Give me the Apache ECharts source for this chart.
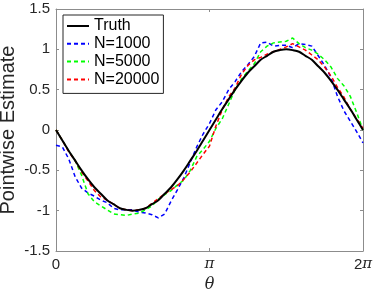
<!DOCTYPE html>
<html>
<head>
<meta charset="utf-8">
<script src="https://cdn.jsdelivr.net/npm/echarts@6/dist/echarts.min.js"></script>
<style>
html,body{margin:0;padding:0;background:#fff;}
#chart{width:374px;height:293px;}
</style>
</head>
<body>
<div id="chart"></div>
<script>
// sample grid: 49 points, theta = k*pi/24, k = 0..48
const sampleCount = 49;
const truth = [0,-0.13,-0.26,-0.38,-0.5,-0.61,-0.71,-0.79,-0.87,-0.92,-0.97,-0.99,-1,-0.99,-0.97,-0.92,-0.87,-0.79,-0.71,-0.61,-0.5,-0.38,-0.26,-0.13,0,
  0.13,0.26,0.38,0.5,0.61,0.71,0.79,0.87,0.92,0.97,0.99,1,0.99,0.97,0.92,0.87,0.79,0.71,0.61,0.5,0.38,0.26,0.13,0];
const n1000 = [-0.19,-0.21,-0.36,-0.58,-0.72,-0.78,-0.82,-0.87,-0.9,-0.97,-0.99,-0.99,-0.99,-1.02,-1.03,-1.05,-1.09,-1.04,-0.88,-0.74,-0.59,-0.4,-0.21,-0.05,0.08,
  0.25,0.35,0.5,0.6,0.72,0.81,0.91,1.08,1.09,1.04,1.05,1.05,1.02,1.07,1.06,1.04,0.92,0.8,0.65,0.42,0.24,0.11,-0.02,-0.16];
const n5000 = [0,-0.13,-0.26,-0.38,-0.56,-0.79,-0.89,-0.94,-0.99,-1.04,-1.05,-1.06,-1.04,-1.03,-0.99,-0.94,-0.86,-0.8,-0.75,-0.68,-0.62,-0.5,-0.33,-0.24,-0.14,
  0.02,0.14,0.32,0.5,0.63,0.73,0.82,0.97,1.04,1.08,1.09,1.1,1.14,1.07,1.02,0.99,0.94,0.87,0.78,0.64,0.55,0.42,0.22,0.0];
const n20000 = [0,-0.13,-0.27,-0.38,-0.52,-0.63,-0.75,-0.83,-0.87,-0.92,-0.97,-0.99,-1,-0.99,-0.97,-0.91,-0.85,-0.79,-0.74,-0.69,-0.61,-0.52,-0.41,-0.3,-0.2,
  0.05,0.25,0.41,0.52,0.69,0.8,0.87,0.9,0.94,0.97,1.0,1.03,1.07,1.03,0.99,0.93,0.87,0.78,0.67,0.53,0.41,0.26,0.14,0.02];
const xTickLabels = {0:'0', 1:'{p|π}', 2:'2{p|π}'};
const yTicks = [-1.5,-1,-0.5,0,0.5,1,1.5];

const theta = Array.from({length: sampleCount}, (_, k) => k * Math.PI / 24);
const pairs = arr => arr.map((v, i) => [theta[i], v]);

const axisColor = '#8c8c8c';
const textColor = '#262626';
const font = 'Liberation Sans, Arial, sans-serif';

const chart = echarts.init(document.getElementById('chart'), null, {renderer: 'canvas'});
chart.setOption({
  animation: false,
  backgroundColor: '#fff',
  grid: {left: 56, right: 11, top: 9, bottom: 42, containLabel: false, outerBoundsMode: 'none'},
  legend: {
    orient: 'vertical', left: 63, top: 15,
    padding: [3, 4, 6, 3],
    itemWidth: 22, itemHeight: 16, itemGap: 1.8,
    borderColor: '#262626', borderWidth: 1, backgroundColor: '#fff',
    itemStyle: {color: 'rgba(0,0,0,0)', borderColor: 'rgba(0,0,0,0)', borderWidth: 0},
    textStyle: {fontSize: 16, lineHeight: 16, color: '#000', fontFamily: font},
    data: ['Truth', 'N=1000', 'N=5000', 'N=20000']
  },
  xAxis: [{
    type: 'value', min: 0, max: 2 * Math.PI, interval: Math.PI,
    name: 'θ', nameLocation: 'middle', nameGap: 26, nameMoveOverlap: false,
    nameTextStyle: {fontSize: 16, fontStyle: 'italic', fontFamily: 'DejaVu Serif, serif', color: textColor},
    axisLine: {show: true, onZero: false, lineStyle: {color: axisColor, width: 1}},
    axisTick: {show: true, inside: true, length: 3, lineStyle: {color: axisColor}},
    splitLine: {show: false},
    axisLabel: {
      color: textColor, fontSize: 15, fontFamily: font, margin: 6,
      formatter: v => xTickLabels[Math.round(v / Math.PI)] || '',
      rich: {p: {fontStyle: 'italic', fontFamily: 'DejaVu Serif, serif', fontSize: 15, color: textColor}}
    }
  }, {
    type: 'value', min: 0, max: 2 * Math.PI, interval: Math.PI, position: 'top',
    axisLine: {show: true, onZero: false, lineStyle: {color: axisColor, width: 1}},
    axisTick: {show: true, inside: true, length: 3, lineStyle: {color: axisColor}},
    axisLabel: {show: false}, splitLine: {show: false}
  }],
  yAxis: [{
    type: 'value', min: -1.5, max: 1.5, interval: 0.5,
    name: 'Pointwise Estimate', nameLocation: 'middle', nameGap: 38, nameRotate: 90, nameMoveOverlap: false,
    nameTextStyle: {fontSize: 20, fontFamily: font, color: textColor},
    axisLine: {show: true, onZero: false, lineStyle: {color: axisColor, width: 1}},
    axisTick: {show: true, inside: true, length: 3, lineStyle: {color: axisColor}},
    splitLine: {show: false},
    axisLabel: {color: textColor, fontSize: 15, fontFamily: font, margin: 6,
      formatter: v => { const t = yTicks.find(y => Math.abs(y - v) < 1e-9); return t === undefined ? '' : String(t); }}
  }, {
    type: 'value', min: -1.5, max: 1.5, interval: 0.5, position: 'right',
    axisLine: {show: true, onZero: false, lineStyle: {color: axisColor, width: 1}},
    axisTick: {show: true, inside: true, length: 3, lineStyle: {color: axisColor}},
    axisLabel: {show: false}, splitLine: {show: false}
  }],
  series: [
    {name: 'N=1000', type: 'line', data: pairs(n1000), symbol: 'none', z: 2,
      lineStyle: {color: '#0000ff', width: 1.5, type: [4, 3]}, itemStyle: {color: '#0000ff'}},
    {name: 'N=5000', type: 'line', data: pairs(n5000), symbol: 'none', z: 3,
      lineStyle: {color: '#00ff00', width: 1.5, type: [4, 3]}, itemStyle: {color: '#00ff00'}},
    {name: 'N=20000', type: 'line', data: pairs(n20000), symbol: 'none', z: 4,
      lineStyle: {color: '#ff0000', width: 1.5, type: [4, 3]}, itemStyle: {color: '#ff0000'}},
    {name: 'Truth', type: 'line', data: pairs(truth), symbol: 'none', smooth: 0.3, z: 5,
      lineStyle: {color: '#000000', width: 2}, itemStyle: {color: '#000000'}}
  ]
});
</script>
</body>
</html>
